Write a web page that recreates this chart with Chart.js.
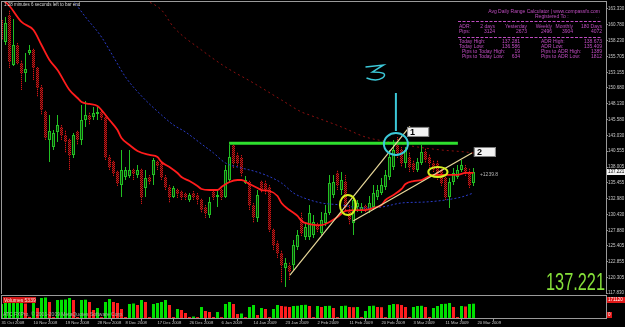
<!DOCTYPE html>
<html><head><meta charset="utf-8">
<script src="https://cdn.jsdelivr.net/npm/chart.js@4.4.1/dist/chart.umd.min.js"></script>
<style>
html,body{margin:0;padding:0;background:#000;overflow:hidden;}
#wrap{position:relative;width:625px;height:327px;background:#000;}
#main{position:absolute;left:0;top:0;}
#vol{position:absolute;left:0;top:294px;}
</style></head><body>
<div id="wrap"><canvas id="main" width="625" height="296"></canvas><canvas id="vol" width="625" height="33"></canvas></div>
<script>
// ---------- DATA (daily candles) ----------
const openP = [161.57,158.04,162.37,154.36,157.56,154.68,153.08,156.28,156.76,153.88,
150.83,146.83,142.34,141.22,143.62,144.43,143.14,142.34,139.94,143.62,
142.34,145.55,146.35,146.03,146.51,146.83,146.03,139.62,138.82,137.22,
135.13,136.41,136.57,137.53,136.74,137.53,134.65,136.41,136.74,138.82,
138.66,136.41,134.81,133.21,134.33,134.01,133.69,132.73,133.85,133.53,
132.73,131.60,130.32,134.01,133.21,134.33,133.21,135.93,141.54,139.94,
139.46,135.45,135.61,131.93,129.84,135.61,135.45,134.81,127.92,125.84,
124.24,121.83,122.16,122.32,125.20,129.84,126.80,126.80,127.12,128.72,
127.44,129.04,130.64,133.53,137.06,134.33,135.61,131.12,129.04,131.60,
131.12,131.77,131.12,131.60,133.21,133.85,134.81,136.41,138.02,141.86,
140.74,138.66,139.62,138.66,137.53,138.66,140.42,139.62,138.66,138.66,
137.53,136.25,133.21,135.61,136.41,137.53,137.86,137.22,135.45];
const highP = [161.89,162.05,163.17,161.73,157.88,155.16,156.28,157.56,157.08,154.04,
151.15,147.15,146.35,143.94,146.35,144.75,143.94,142.66,143.46,143.94,
147.95,148.59,146.83,147.63,147.63,147.15,146.35,139.94,139.14,137.53,
140.74,138.02,140.74,137.86,138.34,137.86,137.53,136.74,139.46,139.14,
139.14,136.74,135.13,134.97,134.65,134.33,134.01,133.85,134.17,133.85,
133.05,131.93,133.21,134.33,134.33,134.65,138.34,141.54,141.86,140.42,
139.94,136.57,135.93,132.25,134.33,135.93,135.93,135.13,128.24,126.32,
124.72,123.44,122.80,126.32,127.92,130.80,129.20,131.93,130.32,129.20,
130.80,131.93,136.74,136.74,137.53,137.22,136.74,131.93,133.05,132.73,
132.25,132.09,133.37,135.13,135.13,136.25,137.53,140.74,142.34,142.82,
141.22,141.22,140.42,139.14,139.46,141.54,141.06,140.10,139.14,139.14,
138.02,136.74,136.25,137.86,138.34,139.14,138.34,137.86,137.86];
const lowP = [157.56,157.56,153.88,154.20,154.36,150.35,151.63,155.96,151.95,149.23,
146.35,142.34,138.82,140.74,142.02,142.34,140.26,137.53,139.46,141.54,
141.54,144.43,144.75,145.55,145.55,145.55,139.14,137.53,136.57,134.97,
133.21,135.93,136.25,135.93,136.25,132.09,133.21,135.13,135.13,137.53,
135.93,134.33,132.25,133.05,133.05,132.73,132.73,132.41,132.73,131.93,
130.64,129.84,129.84,132.73,131.60,132.73,133.05,135.45,137.86,138.02,
136.41,135.29,131.12,129.04,129.20,133.85,133.53,127.60,124.72,123.44,
119.43,118.79,119.91,121.51,124.72,126.96,126.32,126.32,126.64,127.60,
127.12,128.56,130.32,133.05,134.33,133.53,131.12,128.72,127.12,130.80,
130.64,130.80,130.64,131.12,132.73,133.53,134.33,135.93,137.53,139.46,
138.02,137.86,137.22,137.22,137.22,138.34,138.66,137.86,137.22,135.93,
134.97,132.73,131.44,135.13,136.09,137.22,136.57,134.65,134.97];
const closeP = [158.36,161.09,154.84,157.56,154.68,153.08,153.72,156.76,153.88,150.67,
147.15,142.66,143.78,143.46,144.75,143.14,142.02,139.94,143.14,142.34,
145.55,146.35,145.55,146.67,146.83,145.87,139.62,138.02,137.06,135.45,
137.53,137.53,137.53,136.90,137.53,133.21,136.25,135.61,139.14,138.18,
136.41,134.81,133.21,134.65,133.69,133.21,133.21,133.53,133.21,132.73,
131.12,130.64,132.41,133.21,133.53,133.21,137.53,139.62,138.66,138.66,
137.06,135.93,131.93,130.00,133.53,134.33,134.33,127.92,125.52,124.24,
122.32,122.64,121.19,125.52,127.12,127.44,128.40,130.64,129.20,127.92,
129.51,130.64,135.45,135.61,135.13,135.93,131.60,129.51,132.73,132.25,
131.60,131.12,132.25,133.85,134.33,135.13,136.74,139.62,140.74,140.26,
138.66,140.74,138.02,137.53,138.82,140.42,139.14,138.66,137.53,136.41,
135.45,133.21,135.61,137.06,137.53,138.34,137.06,135.13,137.221];
const volumes = [108900,116700,117500,118300,119000,119800,112800,7800,116700,77800,
155600,159500,124500,6900,140000,141600,143900,155600,140000,7200,
140100,142400,124500,62200,77800,6500,124500,147800,124400,116700,
70000,7600,108900,112800,101100,140000,124500,7000,108900,116700,
124500,140000,101100,7300,70000,62200,38900,8100,11700,6900,
85600,54500,46700,7600,46700,7000,108900,124500,108900,31100,
35000,7200,85600,101100,23300,77800,70000,6800,70000,101100,
93400,89500,85600,93400,94900,101100,102700,93400,7100,93400,
85600,93400,94900,77800,6900,93400,95700,85600,84000,85600,
7400,54500,93400,95700,85600,84000,7200,101100,108900,107400,
101100,85600,7000,85600,93400,94900,85600,7600,77800,93400,
108900,110500,116700,85600,7300,93400,89500,108900,111300];

// moving averages (bar index -> price)
const redMAIdx = [0,2,5,8,10,12,14,17,19,20,22,24,25,27,29,30,32,34,37,39,40,42,44,45,47,49,50,52,54,55,57,59,60,62,64,65,67,69,70,72,74,75,77,79,80,82,84,86,89,91,93,95,96,98,100,101,103,105,108,111,114,116,118];
const redMAVal = [165.00,163.81,161.25,159.97,157.56,155.16,153.56,150.35,149.07,148.43,148.11,147.79,147.15,145.55,143.94,142.66,141.54,140.58,139.94,139.62,138.82,138.02,137.06,136.41,135.77,134.97,134.49,134.33,134.33,134.81,135.61,135.93,135.93,135.29,134.65,134.33,134.17,133.37,132.25,131.12,130.17,129.36,128.88,128.72,128.72,129.20,130.00,130.97,131.12,131.12,131.44,131.93,132.73,133.53,134.49,135.29,135.77,135.93,136.74,136.74,136.74,137.06,137.06];
const blueMAIdx = [18,21,25,28,31,35,40,43,46,50,53,56,60,63,66,70,73,75,80,85,90,95,100,106,111,115,118];
const blueMAVal = [164.61,162.05,158.84,155.64,152.44,149.39,146.35,144.75,143.62,141.70,140.26,138.66,137.86,137.38,136.74,135.45,133.85,133.21,132.25,131.93,131.44,131.60,132.25,132.41,132.73,133.21,133.85];
const darkMAIdx = [36,40,43,50,56,63,70,75,77,85,91,97,104,110,116,118];
const darkMAVal = [164.77,163.17,160.45,156.76,154.04,151.47,148.75,146.83,146.35,144.43,142.82,142.02,141.22,140.74,140.42,140.26];

// axis ticks
const yTickVals = [163.330,160.780,158.230,155.705,153.155,150.680,148.130,145.580,143.030,140.555,138.005,135.455,132.980,130.430,127.880,125.405,122.855,120.305,117.830];
const dateTickIdx = [0,8,16,24,31,39,47,55,63,71,79,87,95,103,111,119];
const dateLabels = ['31 Oct 2008','10 Nov 2008','19 Nov 2008','28 Nov 2008','8 Dec 2008','17 Dec 2008','26 Dec 2008','6 Jan 2009','14 Jan 2009','23 Jan 2009','2 Feb 2009','11 Feb 2009','20 Feb 2009','3 Mar 2009','11 Mar 2009','20 Mar 2009'];
const volMax = 171120;

// drawn objects (bar index, price)
const resistLine = {from:56.9, to:114.1, price:141.82};
const trendLine1 = [[72.1,120.71],[102.1,144.53]];
const trendLine2 = [[87.9,129.36],[117.6,140.26]];
const cyanStem = {i:98.6, top:149.87, bottom:143.78};
const cyanEllipse = {i:98.6, price:141.70, rBars:3, rPrice:1.76};
const yellowEllipses = [{i:86.6, price:131.93, rBars:2, rPrice:1.6},{i:109.1, price:137.22, rBars:2.4, rPrice:0.8}];
const tagLabels = [{text:'1', i:101.4, price:144.43},{text:'2', i:118.1, price:141.22}];
const objLabel = {text:'+1239.8', i:119.6, price:136.74};
const scribble = {i:91.5, price:154.2};

// ---------- STYLE ----------
const FONT = '"Liberation Sans", Arial, sans-serif';
const bullFill = '#0c3f0c', bullLine = '#22c022';
const N = openP.length;
const idx = Array.from({length:N}, (_, i) => i);
const xMin = 0.125, xMax = 0.125 + 604/4;
const isBull = i => closeP[i] >= openP[i];

const mctx = document.getElementById('main').getContext('2d');
function checker(ctx, a, b){
  const c = document.createElement('canvas'); c.width = 2; c.height = 2;
  const g = c.getContext('2d'); g.fillStyle = b; g.fillRect(0,0,2,2);
  g.fillStyle = a; g.fillRect(0,0,1,1); g.fillRect(1,1,1,1);
  return ctx.createPattern(c, 'repeat');
}
const bearPat = checker(mctx, '#cc1616', '#3a0303');

function txt(ctx, s, x, y, color, size, align, weight){
  ctx.font = (weight || '') + ' ' + size + 'px ' + FONT;
  ctx.fillStyle = color; ctx.textAlign = align || 'left'; ctx.textBaseline = 'middle';
  ctx.fillText(s, x, y);
}

const mainDeco = {
  id: 'mainDeco',
  beforeDraw(chart){
    const c = chart.ctx; c.save(); c.fillStyle = '#000'; c.fillRect(0,0,chart.width,chart.height); c.restore();
  },
  afterDatasetsDraw(chart){
    const c = chart.ctx, xs = chart.scales.x, ys = chart.scales.y;
    const X = v => xs.getPixelForValue(v), Y = v => ys.getPixelForValue(v);
    c.save();
    const a = chart.chartArea;
    c.beginPath(); c.rect(a.left, a.top, a.right - a.left, a.bottom - a.top); c.clip();
    c.strokeStyle = '#2ee02e'; c.lineWidth = 3;
    c.beginPath(); c.moveTo(X(resistLine.from), Y(resistLine.price)); c.lineTo(X(resistLine.to), Y(resistLine.price)); c.stroke();
    c.strokeStyle = '#e8d89a'; c.lineWidth = 1.2;
    [trendLine1, trendLine2].forEach(t => { c.beginPath(); c.moveTo(X(t[0][0]), Y(t[0][1])); c.lineTo(X(t[1][0]), Y(t[1][1])); c.stroke(); });
    c.strokeStyle = '#3cc8d8'; c.lineWidth = 2;
    c.beginPath(); c.moveTo(X(cyanStem.i), Y(cyanStem.top)); c.lineTo(X(cyanStem.i), Y(cyanStem.bottom)); c.stroke();
    const pxBar = X(1) - X(0), pxPrice = Y(0) - Y(1);
    c.beginPath(); c.ellipse(X(cyanEllipse.i), Y(cyanEllipse.price), cyanEllipse.rBars*pxBar, cyanEllipse.rPrice*pxPrice, 0, 0, Math.PI*2); c.stroke();
    const sx = X(scribble.i), sy = Y(scribble.price);
    c.lineWidth = 1.5;
    c.beginPath(); c.moveTo(sx-2, sy+1); c.lineTo(sx+16, sy-1); c.lineTo(sx+5, sy+6);
    c.quadraticCurveTo(sx+22, sy+6, sx+15, sy+12); c.quadraticCurveTo(sx+9, sy+16, sx-1, sy+12); c.stroke();
    c.strokeStyle = '#d4ee1e'; c.lineWidth = 2;
    yellowEllipses.forEach(e => { c.beginPath(); c.ellipse(X(e.i), Y(e.price), e.rBars*pxBar, e.rPrice*pxPrice, 0, 0, Math.PI*2); c.stroke(); });
    tagLabels.forEach(t => {
      const lx = X(t.i), ly = Y(t.price);
      c.fillStyle = '#f2f2f2'; c.fillRect(lx, ly, 22, 10);
      c.strokeStyle = '#808080'; c.lineWidth = 1; c.strokeRect(lx+0.5, ly+0.5, 21, 9);
      txt(c, t.text, lx+3, ly+5.5, '#000', 9, 'left', 'bold');
    });
    c.restore();
    c.save();
    txt(c, objLabel.text, X(objLabel.i), Y(objLabel.price), '#b4b4b4', 5, 'left');
    c.restore();
  },
  afterDraw(chart){
    const c = chart.ctx, a = chart.chartArea, ys = chart.scales.y;
    c.save();
    c.strokeStyle = '#9a9a9a'; c.lineWidth = 1;
    c.strokeRect(a.left-0.5, a.top-0.5, a.right-a.left+1, a.bottom-a.top+1);
    txt(c, '1:28 minutes 6 seconds left to bar end', 4, 4.5, '#d8d8d8', 4.5);
    const P = '#bf4cc0';
    txt(c, 'Avg Daily Range Calculator | www.compassfx.com', 600, 12, P, 5, 'right');
    txt(c, 'Registered To :', 535, 16.5, P, 5, 'left');
    txt(c, '..', 596, 16.5, '#7a2f7a', 5, 'left');
    c.strokeStyle = P; c.setLineDash([3,1.5]); c.lineWidth = 1;
    c.beginPath(); c.moveTo(458, 21.5); c.lineTo(602, 21.5); c.moveTo(458, 37.5); c.lineTo(602, 37.5); c.stroke();
    c.setLineDash([]);
    const colR = [495, 527, 552, 573, 602];
    txt(c, 'ADR:', 459, 26.5, P, 5);
    ['2 days','Yesterday','Weekly','Monthly','180 Days'].forEach((s,k)=>txt(c, s, colR[k], 26.5, P, 5, 'right'));
    txt(c, 'Pips:', 459, 31.5, P, 5);
    ['3124','2673','2496','3904','4072'].forEach((s,k)=>txt(c, s, colR[k], 31.5, P, 5, 'right'));
    const rows = [['Today High:','137.281','ADR High:','138.673',459],['Today Low:','136.586','ADR Low:','135.409',459],
                  ['Pips to Today High:','19','Pips to ADR High:','1389',462],['Pips to Today Low:','634','Pips to ADR Low:','1812',462]];
    rows.forEach((r,k)=>{ const yy = 42 + k*5;
      txt(c, r[0], r[4], yy, P, 5); txt(c, r[1], 520, yy, P, 5, 'right');
      txt(c, r[2], 541, yy, P, 5); txt(c, r[3], 602, yy, P, 5, 'right'); });
    c.save(); c.translate(605, 290); c.scale(0.71, 1);
    c.font = '23px ' + FONT; c.fillStyle = '#86e03a'; c.textAlign = 'right'; c.textBaseline = 'alphabetic';
    c.fillText(closeP[N-1].toFixed(3), 0, 0); c.restore();
    const py = ys.getPixelForValue(closeP[N-1]);
    c.fillStyle = '#f4f4f4'; c.fillRect(607, Math.round(py)-3, 18, 6);
    txt(c, closeP[N-1].toFixed(3), 608, py, '#000', 4.5);
    c.restore();
  }
};

Chart.defaults.font.family = FONT;

new Chart(mctx, {
  data: {
    datasets: [
      {type:'line', label:'MA fast', data: redMAIdx.map((x,k)=>({x, y:redMAVal[k]})), borderColor:'#ff1c1c', borderWidth:1.8, pointRadius:0, cubicInterpolationMode:'monotone', order:0},
      {type:'line', label:'MA mid', data: blueMAIdx.map((x,k)=>({x, y:blueMAVal[k]})), borderColor:'#2a3cc8', borderWidth:1, borderDash:[2,2], pointRadius:0, cubicInterpolationMode:'monotone', order:0},
      {type:'line', label:'MA slow', data: darkMAIdx.map((x,k)=>({x, y:darkMAVal[k]})), borderColor:'#8c1010', borderWidth:1, borderDash:[2,3], pointRadius:0, cubicInterpolationMode:'monotone', order:0},
      {type:'bar', label:'body', data: idx.map(i=>({x:i, y:[openP[i], closeP[i]]})),
        backgroundColor: ctx => isBull(ctx.dataIndex) ? bullFill : bearPat,
        borderColor: bullLine, borderWidth: ctx => isBull(ctx.dataIndex) ? 1 : 0, borderSkipped:false,
        barThickness:3, grouped:false, inflateAmount:0, order:1},
      {type:'bar', label:'wick', data: idx.map(i=>({x:i, y:[lowP[i], highP[i]]})),
        backgroundColor: ctx => isBull(ctx.dataIndex) ? bullLine : bearPat,
        borderWidth:0, barThickness:1, grouped:false, inflateAmount:0, order:2}
    ]
  },
  options: {
    responsive:false, animation:false, devicePixelRatio:1, events:[],
    layout:{padding:{left:2, right:0, top:2, bottom:2}},
    plugins:{legend:{display:false}, tooltip:{enabled:false}},
    scales:{
      x:{type:'linear', offset:false, min:xMin, max:xMax, display:false},
      y:{position:'right', min:117.67, max:164.45,
         afterFit: s => { s.width = 19; },
         afterBuildTicks: s => { s.ticks = yTickVals.map(v => ({value:v})); },
         ticks:{autoSkip:false, padding:0, color:'#c8c8c8', font:{size:4.5, lineHeight:0.8}, callback: v => Number(v).toFixed(3)},
         grid:{drawOnChartArea:false, tickLength:2, color:'#8c8c8c'}, border:{display:false}}
    }
  },
  plugins:[mainDeco]
});

const volDeco = {
  id:'volDeco',
  beforeDraw(chart){
    const c = chart.ctx; c.save(); c.fillStyle = '#000'; c.fillRect(0,0,chart.width,chart.height); c.restore();
  },
  afterDraw(chart){
    const c = chart.ctx, a = chart.chartArea, ys = chart.scales.y;
    c.save();
    c.strokeStyle = '#9a9a9a'; c.lineWidth = 1;
    c.strokeRect(a.left-0.5, a.top-0.5, a.right-a.left+1, a.bottom-a.top+1);
    c.fillStyle = '#d41818'; c.fillRect(3, 3, 33, 6);
    txt(c, 'Volumes 5339', 4, 6.2, '#ffd8d8', 5);
    txt(c, 'ATC FXPro, \u00a9 2001-2009 MetaQuotes Software Corp.', 3, 20.3, '#a8a8a8', 5);
    const top = ys.getPixelForValue(volMax), bot = ys.getPixelForValue(0);
    c.fillStyle = '#e01818'; c.fillRect(607, top+1, 18, 6);
    txt(c, String(volMax), 608, top+4, '#ffffff', 4.5);
    c.fillStyle = '#e01818'; c.fillRect(607, bot-6, 5, 6);
    txt(c, '0', 608, bot-3, '#ffffff', 4.5);
    c.restore();
  }
};

new Chart(document.getElementById('vol').getContext('2d'), {
  data:{datasets:[{type:'bar', label:'Volumes', data: idx.map(i=>({x:i, y:volumes[i]})),
    backgroundColor: ctx => { const i = ctx.dataIndex; return (i === 0 || volumes[i] > volumes[i-1]) ? '#00e000' : '#ff1e1e'; },
    barThickness:3, grouped:false, inflateAmount:0, borderWidth:0}]},
  options:{
    responsive:false, animation:false, devicePixelRatio:1, events:[],
    layout:{padding:{left:2, right:19, top:2, bottom:0}},
    plugins:{legend:{display:false}, tooltip:{enabled:false}},
    scales:{
      x:{type:'linear', offset:false, min:xMin, max:xMax, position:'bottom',
         afterFit: s => { s.height = 9; },
         afterBuildTicks: s => { s.ticks = dateTickIdx.map(v => ({value:v})); },
         ticks:{autoSkip:false, maxRotation:0, minRotation:0, align:'start', padding:0, color:'#c8c8c8', font:{size:4.2, lineHeight:1},
                callback: v => { const k = dateTickIdx.indexOf(v); return k >= 0 ? dateLabels[k] : ''; }},
         grid:{drawOnChartArea:false, tickLength:3, color:'#8c8c8c'}, border:{display:false}},
      y:{display:false, min:0, max:volMax}
    }
  },
  plugins:[volDeco]
});
</script>
</body></html>
